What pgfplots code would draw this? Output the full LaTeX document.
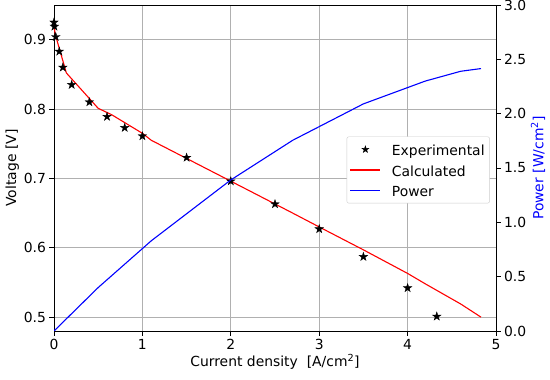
\documentclass[border=0pt]{standalone}
\usepackage{fontspec}
\setmainfont{DejaVu Sans}
\usepackage{pgfplots}
\pgfplotsset{compat=1.18}

\pgfdeclareplotmark{fstar}{%
  \pgfpathmoveto{\pgfpointpolar{90}{\pgfplotmarksize}}%
  \pgfpathlineto{\pgfpointpolar{126}{0.382\pgfplotmarksize}}%
  \pgfpathlineto{\pgfpointpolar{162}{\pgfplotmarksize}}%
  \pgfpathlineto{\pgfpointpolar{198}{0.382\pgfplotmarksize}}%
  \pgfpathlineto{\pgfpointpolar{234}{\pgfplotmarksize}}%
  \pgfpathlineto{\pgfpointpolar{270}{0.382\pgfplotmarksize}}%
  \pgfpathlineto{\pgfpointpolar{306}{\pgfplotmarksize}}%
  \pgfpathlineto{\pgfpointpolar{342}{0.382\pgfplotmarksize}}%
  \pgfpathlineto{\pgfpointpolar{18}{\pgfplotmarksize}}%
  \pgfpathlineto{\pgfpointpolar{54}{0.382\pgfplotmarksize}}%
  \pgfpathclose
  \pgfusepathqfillstroke
}

\definecolor{gridgray}{HTML}{B0B0B0}
\definecolor{leggray}{HTML}{CCCCCC}

\newcommand{\legstrut}{\rule[-5bp]{0pt}{19bp}}

\pgfplotsset{
  myaxis/.style={
    scale only axis,
    width=442bp, height=326bp,
    at={(0,0)}, anchor=south west,
    font=\fontsize{13.9bp}{16bp}\selectfont,
    /pgf/number format/assume math mode=true,
    tick align=outside,
    tick style={black, line width=0.8bp},
    major tick length=4.5bp,
    axis line style={black, line width=0.8bp},
    xmin=0, xmax=5,
  },
  longline/.style={legend image code/.code={\draw[##1] plot coordinates {(0bp,0bp) (15bp,0bp) (30bp,0bp)};}},
  starleg/.style={legend image code/.code={\draw[##1] plot coordinates {(15bp,0bp)};}},
}

\begin{document}
\begin{tikzpicture}
\useasboundingbox (-54bp,-49bp) rectangle (496bp,331bp);
\begin{axis}[
  myaxis,
  ymin=0.48, ymax=0.95,
  xtick={0,1,2,3,4,5},
  ytick={0.5,0.6,0.7,0.8,0.9},
  yticklabel style={/pgf/number format/fixed, /pgf/number format/fixed zerofill, /pgf/number format/precision=1},
  ytick pos=left,
  xtick pos=bottom,
  grid=major,
  major grid style={gridgray, line width=0.8bp},
  xlabel={Current density\ \ [A/cm\textsuperscript{2}]},
  ylabel={Voltage [V]},
  xlabel style={yshift=2bp},
  ylabel style={yshift=-2bp},
]
\addplot[only marks, mark=fstar, mark size=4.4bp, black] coordinates {
(0,0.925) (0.005,0.919) (0.02,0.904) (0.06,0.883) (0.1,0.860) (0.2,0.835)
(0.4,0.810) (0.6,0.789) (0.8,0.773) (1.0,0.761) (1.5,0.730) (2.0,0.696)
(2.5,0.663) (3.0,0.627) (3.5,0.587) (4.0,0.542) (4.33,0.501)
};
\addplot[red, line width=1.1bp, mark=none] coordinates {
(0,0.918) (0.02,0.905) (0.07,0.883) (0.14,0.852) (0.5,0.801) (0.65,0.792)
(1.0,0.765) (1.1,0.755) (2.0,0.696) (2.7,0.650) (3.0,0.630) (3.5,0.597)
(4.0,0.563) (4.2,0.548) (4.6,0.519) (4.83,0.500)
};
\end{axis}
\begin{axis}[
  myaxis,
  ymin=0, ymax=3.0,
  axis x line=none,
  axis y line*=right,
  ytick={0,0.5,1,1.5,2,2.5,3},
  yticklabel style={/pgf/number format/fixed, /pgf/number format/fixed zerofill, /pgf/number format/precision=1},
  ylabel={Power [W/cm\textsuperscript{2}]},
  ylabel style={blue, yshift=2bp},
  legend style={at={(rel axis cs:0.986,0.494)}, anchor=east, draw=leggray, fill=white, rounded corners=2bp, font=\fontsize{13.9bp}{16bp}\selectfont, inner sep=3bp, row sep=1bp},
  legend cell align=left,
]
\addlegendimage{only marks, mark=fstar, mark size=3.6bp, black, starleg}
\addlegendentry{\hspace{9bp}\legstrut Experimental}
\addlegendimage{red, line width=1.1bp, longline}
\addlegendentry{\hspace{9bp}\legstrut Calculated}
\addplot[blue, line width=1.1bp, mark=none, longline] coordinates {
(0,0) (0.5,0.40) (1.1,0.83) (2.0,1.39) (2.7,1.755) (3.5,2.09) (4.2,2.30) (4.6,2.39) (4.83,2.415)
};
\addlegendentry{\hspace{9bp}\legstrut Power}
\end{axis}
\end{tikzpicture}
\end{document}
